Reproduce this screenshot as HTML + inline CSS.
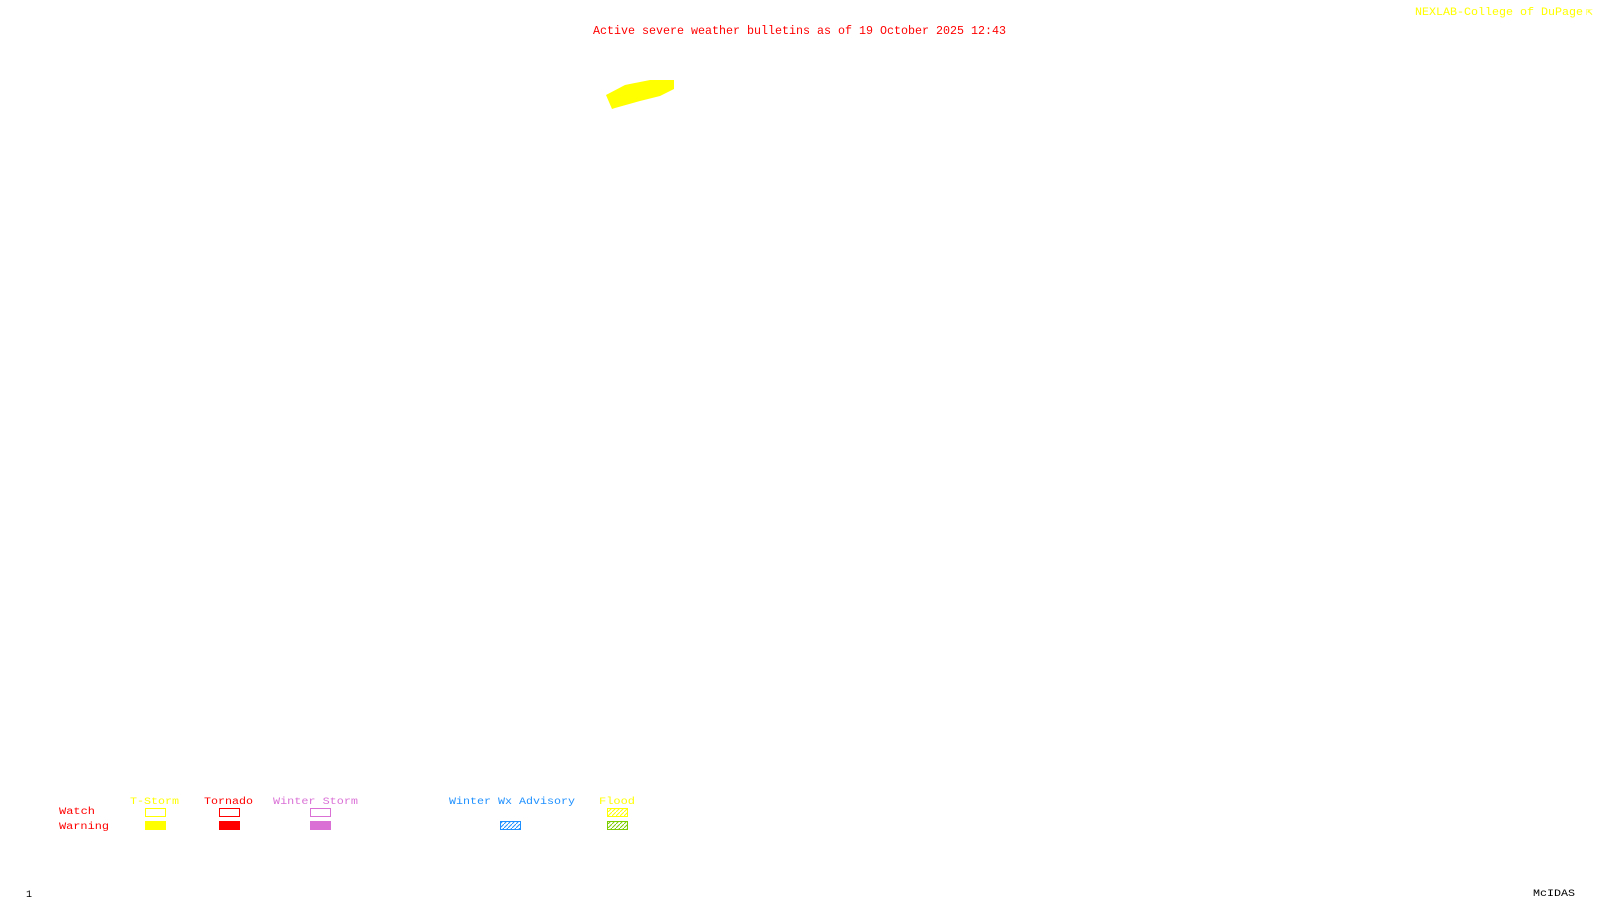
<!DOCTYPE html>
<html><head><style>body{margin:0;background:#fff}svg{display:block}</style></head>
<body>
<svg width="1600" height="900" xmlns="http://www.w3.org/2000/svg" font-family="Liberation Mono, monospace">
<defs>
<pattern id="hb" width="4" height="4" patternUnits="userSpaceOnUse"><path d="M0 4L4 0" stroke="#1e90ff" stroke-width="1"/></pattern>
<pattern id="hy" width="4" height="4" patternUnits="userSpaceOnUse"><path d="M0 4L4 0" stroke="#ffff00" stroke-width="1"/></pattern>
<pattern id="hg" width="4" height="4" patternUnits="userSpaceOnUse"><path d="M0 4L4 0" stroke="#7ccd00" stroke-width="1"/></pattern>
</defs>
<text x="593" y="34" font-size="12" fill="#ff0000" textLength="413" lengthAdjust="spacingAndGlyphs">Active severe weather bulletins as of 19 October 2025 12:43</text>
<text x="1415" y="15" font-size="11" fill="#ffff00" textLength="168" lengthAdjust="spacingAndGlyphs">NEXLAB-College of DuPage</text>
<text x="1586" y="15" font-size="11" fill="#ffff00">⇱</text>
<path d="M606 95 L625 85 L650 80 L674 80 L674 89 L660 96 L640 101 L615 108 L612 109 Z" fill="#ffff00"/>
<g font-size="10">
<text x="59" y="814" fill="#ff0000" textLength="36" lengthAdjust="spacingAndGlyphs">Watch</text>
<text x="59" y="829" fill="#ff0000" textLength="50" lengthAdjust="spacingAndGlyphs">Warning</text>
<text x="130" y="804" fill="#ffff00" textLength="49" lengthAdjust="spacingAndGlyphs">T-Storm</text>
<text x="204" y="804" fill="#ff0000" textLength="49" lengthAdjust="spacingAndGlyphs">Tornado</text>
<text x="273" y="804" fill="#da70d6" textLength="85" lengthAdjust="spacingAndGlyphs">Winter Storm</text>
<text x="449" y="804" fill="#1e90ff" textLength="126" lengthAdjust="spacingAndGlyphs">Winter Wx Advisory</text>
<text x="599" y="804" fill="#ffff00" textLength="36" lengthAdjust="spacingAndGlyphs">Flood</text>
</g>
<rect x="145.5" y="808.5" width="20" height="8" fill="none" stroke="#ffff00"/>
<rect x="145" y="821" width="21" height="9" fill="#ffff00"/>
<rect x="219.5" y="808.5" width="20" height="8" fill="none" stroke="#ff0000"/>
<rect x="219" y="821" width="21" height="9" fill="#ff0000"/>
<rect x="310.5" y="808.5" width="20" height="8" fill="none" stroke="#da70d6"/>
<rect x="310" y="821" width="21" height="9" fill="#da70d6"/>
<rect x="500.5" y="821.5" width="20" height="8" fill="url(#hb)" stroke="#1e90ff"/>
<rect x="607.5" y="808.5" width="20" height="8" fill="url(#hy)" stroke="#ffff00"/>
<rect x="607.5" y="821.5" width="20" height="8" fill="url(#hg)" stroke="#7ccd00"/>
<text x="26" y="897" font-size="10" fill="#000">1</text>
<text x="1533" y="896" font-size="10" fill="#000" textLength="42" lengthAdjust="spacingAndGlyphs">McIDAS</text>
</svg>
</body></html>
